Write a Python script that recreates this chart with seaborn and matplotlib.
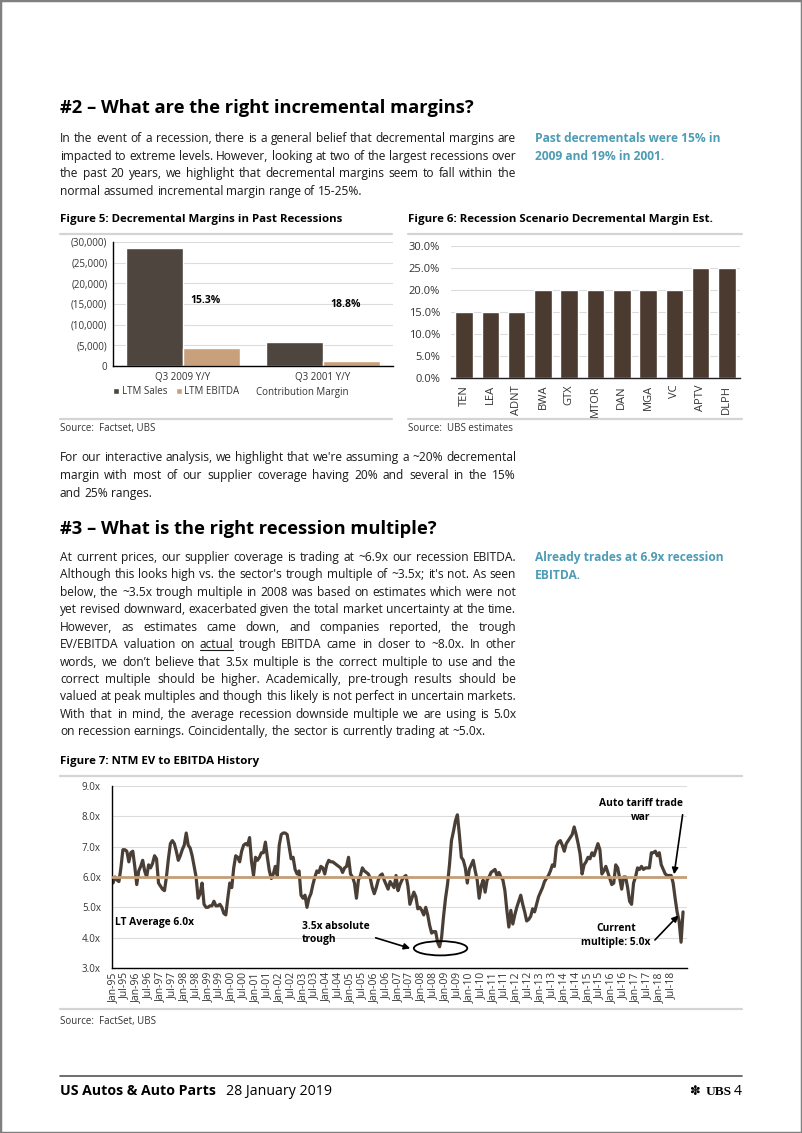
import matplotlib
matplotlib.use("Agg")
import matplotlib.pyplot as plt
import seaborn as sns
import pandas as pd
from matplotlib.patches import Patch, Ellipse, Rectangle
from matplotlib.lines import Line2D

# ---------------- data ----------------
fig5_periods = ["Q3 2009 Y/Y", "Q3 2001 Y/Y"]
fig5_sales = [28500, 5850]
fig5_ebitda = [4360, 1100]
fig5_contrib = ["15.3%", "18.8%"]
fig5_yticks = [0, 5000, 10000, 15000, 20000, 25000, 30000]
fig5_ylabels = ["0", "(5,000)", "(10,000)", "(15,000)", "(20,000)", "(25,000)", "(30,000)"]

fig6_tickers = ["TEN", "LEA", "ADNT", "BWA", "GTX", "MTOR", "DAN", "MGA", "VC", "APTV", "DLPH"]
fig6_margin = [0.15, 0.15, 0.15, 0.20, 0.20, 0.20, 0.20, 0.20, 0.20, 0.25, 0.25]
fig6_yticks = [0.0, 0.05, 0.10, 0.15, 0.20, 0.25, 0.30]
fig6_ylabels = ["0.0%", "5.0%", "10.0%", "15.0%", "20.0%", "25.0%", "30.0%"]

# NTM EV/EBITDA, monthly from Jan-95 to Jan-19
ev_ebitda = [
    5.8, 6.0, 5.9, 5.85, 6.3, 6.9, 6.9, 6.85, 6.5, 6.8, 6.85, 6.35,      # 1995
    5.75, 6.2, 6.35, 6.55, 6.2, 6.0, 6.4, 6.3, 6.45, 6.7, 6.6, 5.8,      # 1996
    5.7, 5.6, 5.55, 6.0, 6.6, 7.1, 7.2, 7.1, 6.85, 6.55, 6.7, 6.9,       # 1997
    7.05, 7.45, 7.05, 6.95, 6.7, 6.35, 6.0, 5.3, 5.45, 5.8, 5.1, 5.0,    # 1998
    5.0, 5.05, 5.05, 5.2, 5.05, 5.05, 5.1, 5.0, 4.8, 4.75, 5.3, 5.8,     # 1999
    5.65, 6.3, 6.7, 6.65, 6.5, 6.85, 7.05, 7.1, 7.05, 7.3, 6.5, 6.05,    # 2000
    6.65, 6.55, 6.65, 6.8, 6.8, 7.15, 6.65, 6.2, 5.95, 6.1, 6.35, 6.05,  # 2001
    7.05, 7.4, 7.45, 7.45, 7.4, 7.0, 6.6, 6.65, 6.25, 6.1, 6.2, 5.4,     # 2002
    5.3, 5.4, 5.0, 5.3, 5.45, 5.75, 6.0, 6.2, 6.15, 6.35, 6.3, 6.1,      # 2003
    6.4, 6.55, 6.5, 6.5, 6.45, 6.4, 6.35, 6.3, 6.15, 6.3, 6.35, 6.65,    # 2004
    6.1, 6.0, 5.8, 5.3, 5.9, 6.05, 6.3, 6.2, 6.15, 6.1, 5.95, 5.65,      # 2005
    5.45, 5.65, 5.9, 6.05, 6.1, 5.9, 5.75, 5.6, 5.85, 5.75, 5.65, 6.05,  # 2006
    5.55, 5.75, 5.9, 6.0, 6.05, 5.7, 5.1, 5.3, 5.5, 5.35, 4.95, 5.0,     # 2007
    4.9, 4.75, 5.0, 4.75, 4.4, 4.15, 4.2, 4.2, 3.85, 3.7, 4.0, 4.7,      # 2008
    5.3, 5.75, 6.4, 7.2, 7.5, 7.85, 8.05, 7.4, 6.65, 6.55, 6.3, 5.8,     # 2009
    6.25, 6.4, 6.55, 6.2, 5.9, 5.3, 5.7, 5.9, 5.5, 5.9, 6.0, 6.15,       # 2010
    6.2, 6.25, 6.05, 6.15, 6.0, 5.9, 5.55, 4.9, 4.35, 4.9, 4.45, 4.75,   # 2011
    5.0, 5.2, 5.4, 5.1, 4.85, 4.55, 4.6, 4.7, 4.95, 4.85, 5.1, 5.35,     # 2012
    5.5, 5.65, 5.85, 5.95, 6.05, 6.2, 6.4, 6.35, 7.0, 7.15, 7.2, 7.05,   # 2013
    6.85, 7.1, 7.2, 7.3, 7.4, 7.65, 7.4, 7.1, 6.75, 6.1, 6.4, 6.5,       # 2014
    6.65, 6.6, 6.8, 6.7, 6.9, 7.1, 6.9, 6.1, 6.2, 6.35, 6.15, 5.95,      # 2015
    5.75, 5.8, 6.4, 6.3, 5.95, 5.6, 6.0, 6.0, 5.65, 5.2, 5.1, 5.8,       # 2016
    6.0, 6.3, 6.25, 6.35, 6.25, 6.3, 6.3, 6.3, 6.8, 6.8, 6.85, 6.7,      # 2017
    6.8, 6.4, 6.25, 6.1, 6.05, 6.05, 6.05, 5.8, 5.3, 4.85, 4.55, 3.85,   # 2018
    4.85,                                                                # Jan-19
]
lt_average = 6.0
fig7_yticks = [3, 4, 5, 6, 7, 8, 9]
fig7_ylabels = ["3.0x", "4.0x", "5.0x", "6.0x", "7.0x", "8.0x", "9.0x"]
fig7_xlabels = [f"{m}-{y:02d}" for y in list(range(95, 100)) + list(range(0, 19)) for m in ("Jan", "Jul")]

# ---------------- page set-up ----------------
W, H = 802, 1133
sns.set_theme(style="white")
plt.rcParams["font.family"] = ["Open Sans", "DejaVu Sans"]

fig = plt.figure(figsize=(W / 100, H / 100), dpi=100)
fig.patch.set_facecolor("white")
renderer = fig.canvas.get_renderer()

TXT = "#1a1a1a"
TEAL = "#4e9cb5"
RULE = "#d4d4d4"


def fx(x):
    return x / W


def fy(y):
    return 1 - y / H


def text_width(s, size, weight="normal"):
    t = fig.text(0, 0, s, fontsize=size, fontweight=weight)
    w = t.get_window_extent(renderer).width
    t.remove()
    return w


def fit_size(s, target, weight="normal"):
    return 10 * target / text_width(s, 10, weight)


def put(x, y, s, size, weight="normal", color=TXT, ha="left", family=None):
    kw = {}
    if family:
        kw["family"] = family
    return fig.text(fx(x), fy(y), s, fontsize=size, fontweight=weight, color=color,
                    ha=ha, va="baseline", **kw)


def line_text(s, x0, x1, y, size, justify=True, weight="normal", color=TXT, underline=()):
    words = s.split()
    widths = [text_width(w, size, weight) for w in words]
    space = text_width("a a", size, weight) - text_width("aa", size, weight)
    if justify and len(words) > 1:
        gap = (x1 - x0 - sum(widths)) / (len(words) - 1)
    else:
        gap = space
    x = x0
    for w, wd in zip(words, widths):
        put(x, y, w, size, weight, color)
        if w in underline:
            fig.add_artist(Line2D([fx(x), fx(x + wd)], [fy(y + 2), fy(y + 2)], color=color, lw=0.8))
        x += wd + gap


def paragraph(lines, ys, size):
    for i, (ln, y) in enumerate(zip(lines, ys)):
        line_text(ln, 60, 516, y, size, justify=(i < len(lines) - 1), underline=("actual",))


def rule(x0, x1, y, color=RULE, lw=1.6):
    fig.add_artist(Line2D([fx(x0), fx(x1)], [fy(y), fy(y)], color=color, lw=lw))


BODY = fit_size("on recession earnings. Coincidentally, the sector is currently trading at ~5.0x.", 428)
HEAD = fit_size("#2 – What are the right incremental margins?", 416, "bold")
FIGT = fit_size("Figure 5: Decremental Margins in Past Recessions", 281, "bold")
SIDE = fit_size("Past decrementals were 15% in", 187, "bold")
SRC = 7.0

# page border
fig.add_artist(Rectangle((0, 0), 1, 1, transform=fig.transFigure, fill=False,
                         edgecolor="#808080", lw=2.5))

# ---------------- section #2 text ----------------
put(60, 113, "#2 – What are the right incremental margins?", HEAD, "bold", "black")
p1 = [
    "In the event of a recession, there is a general belief that decremental margins are",
    "impacted to extreme levels. However, looking at two of the largest recessions over",
    "the past 20 years, we highlight that decremental margins seem to fall within the",
    "normal assumed incremental margin range of 15-25%.",
]
paragraph(p1, [142, 160, 177, 195], BODY)
put(535, 142, "Past decrementals were 15% in", SIDE, "bold", TEAL)
put(535, 160, "2009 and 19% in 2001.", SIDE, "bold", TEAL)

# figure titles / rules
put(60, 222, "Figure 5: Decremental Margins in Past Recessions", FIGT, "bold", "black")
put(408, 222, "Figure 6: Recession Scenario Decremental Margin Est.", FIGT, "bold", "black")
rule(60, 392, 234)
rule(408, 742, 234)
rule(60, 392, 419)
rule(408, 742, 419)
put(60, 431, "Source:  Factset, UBS", SRC, color="#333333")
put(408, 431, "Source:  UBS estimates", SRC, color="#333333")

# ---------------- Figure 5 ----------------
ax5 = fig.add_axes([fx(113), fy(366), (393 - 113) / W, (366 - 242) / H])
df5 = pd.DataFrame({
    "period": fig5_periods * 2,
    "series": ["LTM Sales"] * 2 + ["LTM EBITDA"] * 2,
    "value": fig5_sales + fig5_ebitda,
})
pal5 = {"LTM Sales": "#4d453e", "LTM EBITDA": "#c9a07c"}
sns.barplot(data=df5, x="period", y="value", hue="series", palette=pal5, ax=ax5,
            width=0.82, saturation=1, legend=False)
ax5.set_ylim(0, 30000)
ax5.set_yticks(fig5_yticks)
ax5.set_yticklabels(fig5_ylabels)
ax5.set_xlabel("")
ax5.set_ylabel("")
ax5.yaxis.grid(True, color="#dcdcdc", lw=0.8)
ax5.set_axisbelow(True)
for s in ("top", "right"):
    ax5.spines[s].set_visible(False)
for s in ("left", "bottom"):
    ax5.spines[s].set_color("black")
    ax5.spines[s].set_linewidth(1.0)
ax5.tick_params(axis="both", labelsize=7, colors="#333333", length=0, pad=4)
for xpos, ypos, lab in zip([0.16, 1.16], [15800, 14800], fig5_contrib):
    ax5.text(xpos, ypos, lab, ha="center", va="center", fontsize=7.5, fontweight="bold", color="black")
handles = [Patch(facecolor=pal5["LTM Sales"]), Patch(facecolor=pal5["LTM EBITDA"]),
           Patch(facecolor="none", edgecolor="none")]
fig.legend(handles, ["LTM Sales", "LTM EBITDA", "Contribution Margin"], loc="center",
           bbox_to_anchor=(fx(231), fy(392)), ncol=3, frameon=False, fontsize=7,
           handlelength=0.6, handleheight=0.6, handletextpad=0.25, columnspacing=0.9,
           labelcolor="#333333")

# ---------------- Figure 6 ----------------
ax6 = fig.add_axes([fx(451), fy(378), (740 - 451) / W, (378 - 246) / H])
df6 = pd.DataFrame({"ticker": fig6_tickers, "margin": fig6_margin})
sns.barplot(data=df6, x="ticker", y="margin", color="#4b3a2f", width=0.67, saturation=1, ax=ax6)
ax6.set_ylim(0, 0.30)
ax6.set_yticks(fig6_yticks)
ax6.set_yticklabels(fig6_ylabels)
ax6.set_xlabel("")
ax6.set_ylabel("")
ax6.yaxis.grid(True, color="#dcdcdc", lw=0.8)
ax6.set_axisbelow(True)
for s in ("top", "right", "left"):
    ax6.spines[s].set_visible(False)
ax6.spines["bottom"].set_color("#222222")
ax6.spines["bottom"].set_linewidth(1.0)
ax6.tick_params(axis="y", labelsize=8, colors="#333333", length=0, pad=8)
ax6.tick_params(axis="x", labelsize=8, colors="#333333", length=0, pad=5, labelrotation=90)

# ---------------- section text between ----------------
p2 = [
    "For our interactive analysis, we highlight that we're assuming a ~20% decremental",
    "margin with most of our supplier coverage having 20% and several in the 15%",
    "and 25% ranges.",
]
paragraph(p2, [461, 479, 497], BODY)

put(60, 534, "#3 – What is the right recession multiple?", HEAD, "bold", "black")
p3 = [
    "At current prices, our supplier coverage is trading at ~6.9x our recession EBITDA.",
    "Although this looks high vs. the sector's trough multiple of ~3.5x; it's not. As seen",
    "below, the ~3.5x trough multiple in 2008 was based on estimates which were not",
    "yet revised downward, exacerbated given the total market uncertainty at the time.",
    "However, as estimates came down, and companies reported, the trough",
    "EV/EBITDA valuation on actual trough EBITDA came in closer to ~8.0x. In other",
    "words, we don’t believe that 3.5x multiple is the correct multiple to use and the",
    "correct multiple should be higher. Academically, pre-trough results should be",
    "valued at peak multiples and though this likely is not perfect in uncertain markets.",
    "With that in mind, the average recession downside multiple we are using is 5.0x",
    "on recession earnings. Coincidentally, the sector is currently trading at ~5.0x.",
]
paragraph(p3, [561, 578, 596, 613, 631, 648, 666, 683, 700, 718, 735], BODY)
put(535, 561, "Already trades at 6.9x recession", SIDE, "bold", TEAL)
put(535, 579, "EBITDA.", SIDE, "bold", TEAL)

put(60, 764, "Figure 7: NTM EV to EBITDA History", FIGT, "bold", "black")
rule(60, 742, 776)
rule(60, 742, 1009)
put(60, 1024, "Source:  FactSet, UBS", SRC, color="#333333")

# ---------------- Figure 7 ----------------
ax7 = fig.add_axes([fx(112), fy(968), (687 - 112) / W, (968 - 786) / H])
df7 = pd.DataFrame({"month": range(len(ev_ebitda)), "ev": ev_ebitda})
sns.lineplot(data=df7, x="month", y="ev", color="#4a3f36", lw=2.3, ax=ax7)
ax7.axhline(lt_average, color="#c49e78", lw=2.0, zorder=5)
ax7.set_xlim(-0.5, 290)
ax7.set_ylim(3, 9)
ax7.set_yticks(fig7_yticks)
ax7.set_yticklabels(fig7_ylabels)
ax7.set_xticks(range(0, 6 * len(fig7_xlabels), 6))
ax7.set_xticklabels(fig7_xlabels, rotation=90)
ax7.set_xlabel("")
ax7.set_ylabel("")
ax7.yaxis.grid(True, color="#dcdcdc", lw=0.8)
ax7.set_axisbelow(True)
for s in ("top", "right"):
    ax7.spines[s].set_visible(False)
for s in ("left", "bottom"):
    ax7.spines[s].set_color("black")
    ax7.spines[s].set_linewidth(1.0)
ax7.tick_params(axis="y", labelsize=7, colors="#333333", length=0, pad=8)
ax7.tick_params(axis="x", labelsize=7.5, colors="#333333", length=0, pad=3)

ANN = fit_size("Auto tariff trade", 84, "bold")
put(115, 925, "LT Average 6.0x", ANN, "bold", "black")
put(302, 929, "3.5x absolute", ANN, "bold", "black")
put(302, 942, "trough", ANN, "bold", "black")
put(641, 806, "Auto tariff trade", ANN, "bold", "black", ha="center")
put(641, 820, "war", ANN, "bold", "black", ha="center")
put(616, 931, "Current", ANN, "bold", "black", ha="center")
put(616, 945, "multiple: 5.0x", ANN, "bold", "black", ha="center")

trough_m = min(range(len(ev_ebitda)), key=lambda i: ev_ebitda[i])
trough_v = ev_ebitda[trough_m]
ax7.add_patch(Ellipse((trough_m + 0.5, trough_v - 0.05), width=27, height=0.47,
                      fill=False, edgecolor="black", lw=1.3, zorder=6, clip_on=False))
arrow = dict(arrowstyle="-|>", color="black", lw=1.2, mutation_scale=9)
ax7.annotate("", xy=(trough_m - 13.5, trough_v - 0.08), xycoords="data",
             xytext=(373, H - 937), textcoords="figure pixels", arrowprops=arrow,
             annotation_clip=False)
ax7.annotate("", xy=(283.3, 6.0), xycoords="data",
             xytext=(683, H - 812), textcoords="figure pixels", arrowprops=arrow,
             annotation_clip=False)
ax7.annotate("", xy=(286.6, 4.8), xycoords="data",
             xytext=(653, H - 942), textcoords="figure pixels", arrowprops=arrow,
             annotation_clip=False)

# ---------------- footer ----------------
rule(60, 742, 1076, color="#555555", lw=1.2)
FOOT = fit_size("US Autos & Auto Parts", 156, "bold")
put(60, 1095, "US Autos & Auto Parts", FOOT, "bold", "black")
put(226, 1095, "28 January 2019", FOOT, "normal", "black")
put(742, 1095, "4", FOOT, "normal", "black", ha="right")
put(732, 1095, "UBS", FOOT * 0.95, "bold", "black", ha="right", family=["Liberation Serif", "DejaVu Serif"])
put(701, 1095, "✽", FOOT * 0.9, "normal", "black", ha="right", family=["DejaVu Sans"])

fig.savefig("out.png", dpi=100, facecolor="white")
